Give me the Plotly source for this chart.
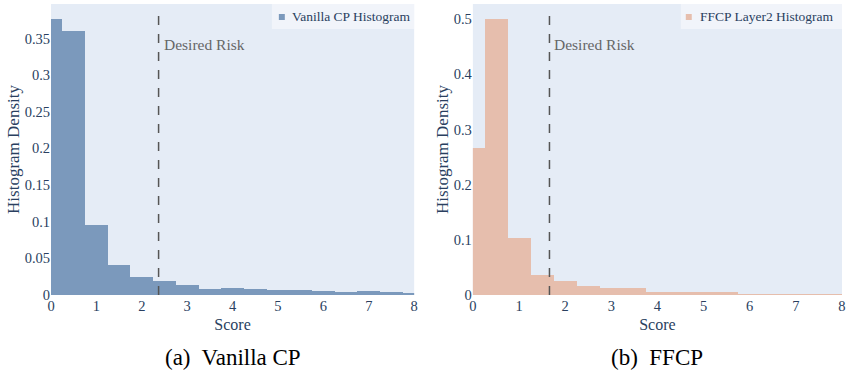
import plotly.graph_objects as go
from plotly.subplots import make_subplots

bin_centers = [0, 0.5, 1, 1.5, 2, 2.5, 3, 3.5, 4, 4.5, 5, 5.5, 6, 6.5, 7, 7.5, 8]
vanilla_density = [0.377, 0.360, 0.095, 0.041, 0.025, 0.019, 0.0135, 0.008, 0.0095,
                   0.008, 0.0065, 0.0065, 0.005, 0.0038, 0.005, 0.0038, 0.0025]
ffcp_density = [0.267, 0.500, 0.1035, 0.036, 0.025, 0.0163, 0.0127, 0.0127, 0.005,
                0.005, 0.005, 0.005, 0.0013, 0.0013, 0.0013, 0.0013, 0.0013]
vanilla_risk = 2.37
ffcp_risk = 1.66
captions = ["(a)  Vanilla CP", "(b)  FFCP"]
names = ["Vanilla CP Histogram", "FFCP Layer2 Histogram"]
colors = ["#7b99bc", "#e6bead"]

FONT = "Liberation Serif"
TXT = "#2a3f5f"

fig = make_subplots(rows=1, cols=2, horizontal_spacing=0.0743)
for i, dens in enumerate([vanilla_density, ffcp_density]):
    fig.add_trace(go.Bar(x=bin_centers, y=dens, width=0.5,
                         marker=dict(color=colors[i], line=dict(width=0)),
                         name=names[i], showlegend=False), row=1, col=i + 1)

L, T, PW, PH = 51, 4, 795.0, 291.0
def px(xp):
    return (xp - L) / PW
def py(yp):
    return (T + PH - yp) / PH

d1 = [0, px(416)]
d2 = [px(475), 1.0]
tf = dict(family=FONT, size=14.5, color=TXT)
fig.update_layout(
    width=850, height=381,
    margin=dict(l=L, r=4, t=T, b=86),
    template="plotly",
    plot_bgcolor="#e5ecf6",
    paper_bgcolor="white",
    bargap=0,
    font=dict(family=FONT, color=TXT, size=14),
    showlegend=False,
    xaxis=dict(domain=d1, range=[0, 8], dtick=1, showgrid=False, zeroline=False,
               title=dict(text="Score", font=dict(size=16, family=FONT, color=TXT), standoff=6),
               tickfont=tf),
    xaxis2=dict(domain=d2, range=[0, 8], dtick=1, showgrid=False, zeroline=False,
                title=dict(text="Score", font=dict(size=16, family=FONT, color=TXT), standoff=6),
                tickfont=tf),
    yaxis=dict(range=[0, 0.397], dtick=0.05, showgrid=False, zeroline=False,
               title=dict(text="Histogram Density", font=dict(size=17, family=FONT, color=TXT),
                          standoff=0),
               tickfont=tf),
    yaxis2=dict(range=[0, 0.5276], dtick=0.1, showgrid=False, zeroline=False,
                title=dict(text="Histogram Density", font=dict(size=17, family=FONT, color=TXT),
                           standoff=0),
                tickfont=tf),
)

# legend boxes (drawn like the reference's compact legends)
legend_geom = [(273, 416, 283, 291), (684, 846, 692, 701)]
for i, (bx0, bx1, mx, tx) in enumerate(legend_geom):
    fig.add_shape(type="rect", xref="paper", yref="paper", x0=px(bx0), x1=px(bx1),
                  y0=py(29), y1=py(4), fillcolor="rgba(255,255,255,0.45)",
                  line=dict(width=0), layer="above")
    fig.add_shape(type="rect", xref="paper", yref="paper", x0=px(mx - 3), x1=px(mx + 3),
                  y0=py(20), y1=py(14), fillcolor=colors[i], line=dict(width=0),
                  layer="above")
    fig.add_annotation(xref="paper", yref="paper", x=px(tx), y=py(17), text=names[i],
                       showarrow=False, xanchor="left", yanchor="middle",
                       font=dict(family=FONT, size=13.5, color=TXT))

for i, (risk, ax) in enumerate([(vanilla_risk, "x"), (ffcp_risk, "x2")]):
    fig.add_shape(type="line", xref=ax, yref="paper", x0=risk, x1=risk, y0=0, y1=0.985,
                  line=dict(color="#555555", width=1.5, dash="dash"))
    fig.add_annotation(xref=ax, yref="paper", x=risk, y=0.86, text="Desired Risk",
                       showarrow=False, xanchor="left", yanchor="middle", xshift=3,
                       font=dict(family=FONT, size=15.5, color="#666666"))

for cap, d in zip(captions, [d1, d2]):
    fig.add_annotation(xref="paper", yref="paper", x=(d[0] + d[1]) / 2, y=-0.215,
                       text=cap, showarrow=False, xanchor="center", yanchor="middle",
                       font=dict(family=FONT, size=23, color="black"))

fig.write_html("out.html")
